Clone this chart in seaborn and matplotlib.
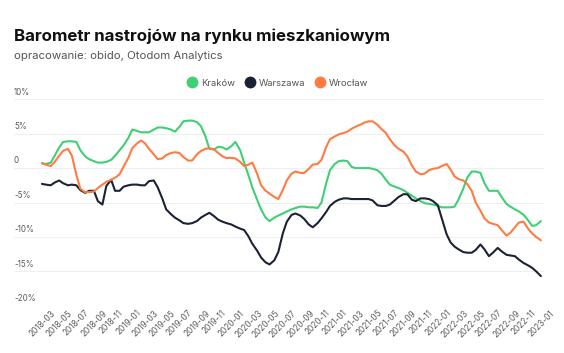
import numpy as np
import pandas as pd
import matplotlib
matplotlib.use("Agg")
import matplotlib.pyplot as plt
import matplotlib.dates as mdates
import matplotlib.transforms as mtransforms
from matplotlib.lines import Line2D
import seaborn as sns

# semi-monthly readings, 2018-03-01 .. 2023-01-01
dates = pd.date_range("2018-03-01", periods=117, freq="SMS")

krakow = [0.7, 0.6, 0.8, 1.8, 3.0, 3.8, 3.9, 3.9, 3.8, 2.6,
          1.7, 1.3, 1.0, 0.8, 0.8, 0.9, 1.2, 1.8, 2.6, 3.3,
          4.4, 5.6, 5.4, 5.2, 5.2, 5.2, 5.6, 5.9, 5.9, 5.8,
          5.6, 5.3, 6.0, 6.8, 6.9, 6.9, 6.7, 6.1, 4.6, 2.8,
          2.7, 3.1, 3.0, 2.7, 3.2, 3.8, 2.6, 0.8, -1.0, -2.8,
          -4.6, -6.0, -7.2, -7.7, -7.2, -6.9, -6.6, -6.3, -6.0, -5.8,
          -5.6, -5.6, -5.7, -5.7, -5.8, -5.0, -2.3, -0.3, 0.6, 1.0,
          1.1, 1.0, 0.2, 0.0, 0.0, 0.0, 0.0, -0.1, -0.3, -0.8,
          -1.7, -2.4, -2.7, -2.9, -3.2, -3.6, -4.0, -4.4, -4.8, -5.1,
          -5.2, -5.3, -5.5, -5.7, -5.7, -5.7, -5.6, -4.6, -3.0, -1.4,
          -0.5, -0.5, -0.7, -2.2, -3.3, -3.3, -3.3, -4.2, -5.2, -5.6,
          -6.0, -6.3, -6.8, -7.5, -8.4, -8.3, -7.7]

warszawa = [-2.3, -2.4, -2.5, -2.1, -1.8, -2.2, -2.5, -2.4, -2.5, -3.2,
            -3.6, -3.3, -3.3, -4.8, -5.3, -2.6, -1.7, -3.3, -3.3, -2.7,
            -2.5, -2.4, -2.4, -2.5, -2.5, -1.9, -1.8, -2.8, -4.4, -6.0,
            -6.7, -7.2, -7.6, -8.0, -8.1, -8.0, -7.7, -7.2, -6.8, -6.5,
            -7.0, -7.5, -7.8, -8.0, -8.2, -8.5, -8.8, -9.0, -9.9, -11.0,
            -12.0, -13.0, -13.7, -14.0, -13.4, -12.2, -9.5, -7.8, -6.8, -6.6,
            -6.9, -7.4, -8.2, -8.6, -8.0, -7.3, -6.4, -5.5, -4.9, -4.6,
            -4.4, -4.4, -4.5, -4.5, -4.5, -4.5, -4.5, -4.7, -5.4, -5.5,
            -5.5, -5.3, -4.7, -4.2, -3.8, -3.8, -4.6, -4.8, -4.4, -4.4,
            -4.5, -4.8, -5.4, -7.3, -9.6, -10.8, -11.4, -11.8, -12.2, -12.3,
            -12.3, -11.9, -11.1, -11.8, -12.8, -12.3, -11.6, -12.1, -12.6, -12.7,
            -12.8, -13.3, -13.8, -14.1, -14.5, -15.0, -15.7]

wroclaw = [0.7, 0.5, 0.3, 0.9, 1.8, 2.5, 2.8, 1.8, -1.0, -3.0,
           -3.5, -3.5, -3.4, -2.9, -2.4, -2.0, -1.7, -1.4, -0.9, 0.2,
           1.5, 2.9, 3.6, 4.0, 3.6, 2.8, 2.0, 1.3, 1.4, 1.9,
           2.2, 2.3, 2.2, 1.6, 1.1, 1.1, 2.0, 2.5, 2.8, 2.9,
           2.7, 2.2, 1.7, 1.45, 1.5, 1.4, 0.9, 0.3, 0.5, 0.8,
           -0.8, -2.5, -3.3, -3.7, -4.2, -4.5, -3.2, -1.8, -0.8, -0.5,
           -0.7, -0.7, -0.1, 0.5, 0.6, 1.2, 3.0, 4.2, 4.6, 4.9,
           5.1, 5.3, 5.7, 6.0, 6.3, 6.6, 6.8, 6.8, 6.3, 5.7,
           5.1, 4.2, 3.3, 2.8, 2.4, 1.7, 0.4, -0.5, -0.9, -0.8,
           -0.3, -0.1, 0.0, 0.3, 0.6, -0.2, -1.2, -1.6, -1.8, -2.3,
           -3.3, -5.0, -6.2, -7.3, -7.9, -8.1, -8.3, -9.0, -9.8, -9.4,
           -8.6, -7.9, -7.8, -8.7, -9.5, -10.0, -10.5]

cities = ["Kraków", "Warszawa", "Wrocław"]
colors = {"Kraków": "#3fcf74", "Warszawa": "#1c2236", "Wrocław": "#ff7b42"}
y_ticks = [10, 5, 0, -5, -10, -15, -20]
y_labels = ["10%", "5%", "0", "-5%", "-10%", "-15%", "-20%"]
x_ticks = dates[::4]  # every second month, 2018-03 .. 2023-01

df = pd.DataFrame({"date": dates, "Kraków": krakow, "Warszawa": warszawa, "Wrocław": wroclaw})
long = df.melt(id_vars="date", var_name="miasto", value_name="wartosc")

sns.set_style("white")
plt.rcParams["font.family"] = ["Inter", "DejaVu Sans"]

fig = plt.figure(figsize=(5.64, 3.53), dpi=100)
ax = fig.add_axes([14 / 564, (353 - 305.7) / 353, 530 / 564, (305.7 - 99.3) / 353])

sns.lineplot(data=long, x="date", y="wartosc", hue="miasto", hue_order=cities,
             palette=colors, linewidth=1.5, legend=False, ax=ax)

ax.set_ylim(-20, 10)
ax.set_xlim(dates[0] - pd.Timedelta(days=99), dates[-1] + pd.Timedelta(days=11))
ax.set_yticks(y_ticks)
ax.set_yticklabels([])
ax.tick_params(axis="y", length=0)
ax.grid(axis="y", color="#efefef", linewidth=0.8)
ax.set_axisbelow(True)
for s in ax.spines.values():
    s.set_visible(False)
ax.set_xlabel("")
ax.set_ylabel("")

# y labels sit above the gridlines
trans = mtransforms.offset_copy(ax.get_yaxis_transform(), fig=fig, x=0, y=2, units="points")
for v, lab in zip(y_ticks, y_labels):
    ax.text(0, v, lab, transform=trans, ha="left", va="bottom", fontsize=5.8, color="#5a5a5a")

ax.set_xticks(x_ticks)
ax.xaxis.set_major_formatter(mdates.DateFormatter("%Y-%m"))
ax.tick_params(axis="x", length=0, pad=2, labelsize=5.9, labelcolor="#5a5a5a")
for t in ax.get_xticklabels():
    t.set_rotation(45)
    t.set_ha("center")

fig.text(14 / 564, 1 - 36 / 353, "Barometr nastrojów na rynku mieszkaniowym",
         fontsize=12.2, fontweight="bold", color="#111111", va="center", ha="left")
fig.text(14 / 564, 1 - 56 / 353, "opracowanie: obido, Otodom Analytics",
         fontsize=8.2, color="#555555", va="center", ha="left")

handles = [Line2D([], [], marker="o", linestyle="", markersize=7.5,
                  markerfacecolor=colors[c], markeredgecolor=colors[c]) for c in cities]
fig.legend(handles, cities, loc="center", bbox_to_anchor=(278 / 564, 1 - 83 / 353),
           ncol=3, frameon=False, fontsize=6.8, handletextpad=0.5, columnspacing=1.0,
           labelcolor="#555555", handlelength=1.0)

fig.savefig("out.png", dpi=100, facecolor="white")
